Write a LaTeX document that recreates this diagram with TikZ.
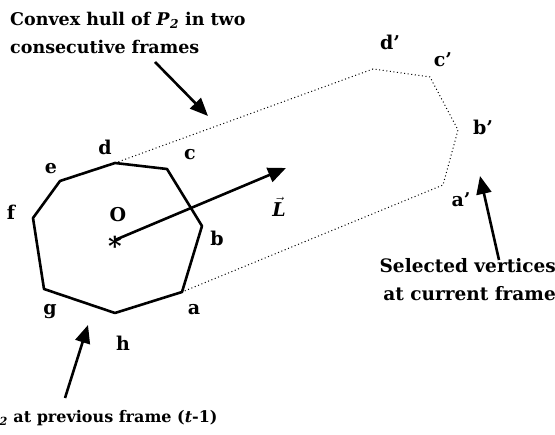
\documentclass[tikz,border=0pt]{standalone}
\usepackage{amsmath}
\usepackage{fontspec}
\setmainfont{DejaVu Serif}
\usetikzlibrary{arrows.meta}
\begin{document}
\begin{tikzpicture}[x=1pt,y=-1pt,
  lbl/.style={font=\fontsize{19}{22}\selectfont\bfseries, inner sep=0pt},
  txt/.style={font=\fontsize{17.5}{28}\selectfont\bfseries, inner sep=0pt, align=left},
  hull/.style={line width=2.6pt, line join=round},
  dots/.style={line width=1pt, dash pattern=on 1pt off 2.6pt},
  bigarrow/.style={line width=2.6pt, -{Triangle[length=18pt,width=15pt]}}]
\useasboundingbox (0,0) rectangle (555,435);
\clip (0,0) rectangle (555,435);
% previous-frame polygon
\coordinate (d) at (115,163);
\coordinate (c) at (167,169);
\coordinate (b) at (202,226);
\coordinate (a) at (182,292);
\coordinate (h) at (115,313);
\coordinate (g) at (44,289);
\coordinate (f) at (33,218);
\coordinate (e) at (60,181);
% current-frame vertices
\coordinate (dp) at (373,69);
\coordinate (cp) at (430,77);
\coordinate (bp) at (458,130);
\coordinate (ap) at (443,185);
\draw[hull] (d) -- (c) -- (b) -- (a) -- (h) -- (g) -- (f) -- (e) -- cycle;
\draw[dots] (d) -- (dp) -- (cp) -- (bp) -- (ap) -- (a);
% labels
\node[lbl] (ld) at (105,147) {d};
\node[lbl] (lc) at (190,155) {c};
\node[lbl] (le) at (51,169) {e};
\node[lbl] (lf) at (11,212) {f};
\node[lbl] (lO) at (118,215) {O};
\node[font=\fontsize{26}{26}\selectfont\bfseries, inner sep=0pt] (O) at (115,246) {*};
\coordinate (Oc) at (115,240);
\node[lbl] (lb) at (217,238) {b};
\node[lbl] (lg) at (50,312) {g};
\node[lbl] (la) at (194,310) {a};
\node[lbl] (lh) at (123,343) {h};
\node[lbl] (ldp) at (390,42) {d’};
\node[lbl] (lcp) at (443,60) {c’};
\node[lbl] (lbp) at (483,127) {b’};
\node[lbl] (lap) at (461,200) {a’};
% direction vector
\coordinate (Ltip) at (286,168);
\draw[bigarrow] (Oc) -- (Ltip);
\node[lbl] (lL) at (279,207) {$\vec{\text{\bfseries\itshape L}}$};
% annotations
\node[txt, anchor=north west] (t1) at (10,12) {Convex hull of \textit{P}\textsubscript{\textit{2}} in two\\consecutive frames};
\coordinate (a1s) at (155,62);
\coordinate (a1e) at (208,116);
\draw[bigarrow] (a1s) -- (a1e);
\node[txt, font=\fontsize{18.5}{28}\selectfont\bfseries, anchor=north east, align=right] (t2) at (556,258) {Selected vertices\\at current frame};
\coordinate (a2s) at (499,260);
\coordinate (a2e) at (480,176);
\draw[bigarrow] (a2s) -- (a2e);
\node[txt, font=\fontsize{16}{20}\selectfont\bfseries, anchor=base west] (t3) at (-13,423) {\textit{P}\textsubscript{\textit{2}} at previous frame (\textit{t}-1)};
\coordinate (a3s) at (65,398);
\coordinate (a3e) at (88,325);
\draw[bigarrow] (a3s) -- (a3e);
\end{tikzpicture}
\end{document}
